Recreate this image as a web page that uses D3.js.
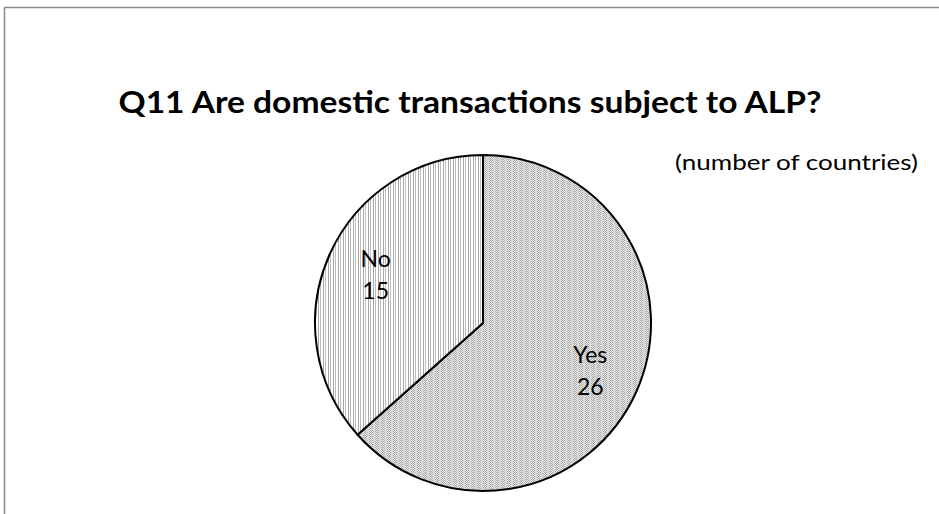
<!DOCTYPE html>
<html>
<head>
<meta charset="utf-8">
<script src="https://cdn.jsdelivr.net/npm/d3@7/dist/d3.min.js"></script>
<style>
  html, body { margin: 0; padding: 0; background: #fff; }
  svg { display: block; }
  text { font-family: Lato, "Open Sans", sans-serif; fill: #000; }
</style>
</head>
<body>
<svg id="chart" width="939" height="514"></svg>
<script>
// Survey answers, in drawing order (clockwise from 12 o'clock)
const categories = ["Yes", "No"];
const counts = [26, 15];
const title = "Q11 Are domestic transactions subject to ALP?";
const unitNote = "(number of countries)";

const svg = d3.select("#chart");
const W = 939, H = 514;

// Hatch fills
const defs = svg.append("defs");
const stripes = defs.append("pattern")
  .attr("id", "fill-No").attr("patternUnits", "userSpaceOnUse")
  .attr("width", 5).attr("height", 4);
stripes.append("rect").attr("width", 5).attr("height", 4).attr("fill", "#fff");
stripes.append("rect").attr("x", 0).attr("width", 1).attr("height", 4).attr("fill", "#a8a8a8");
stripes.append("rect").attr("x", 2).attr("width", 1).attr("height", 4).attr("fill", "#bdbdbd");

const dots = defs.append("pattern")
  .attr("id", "fill-Yes").attr("patternUnits", "userSpaceOnUse")
  .attr("width", 6).attr("height", 2);
dots.append("rect").attr("width", 6).attr("height", 2).attr("fill", "#ececec");
[[0,0],[2,0],[1,1],[3,1]].forEach(([x, y]) =>
  dots.append("rect").attr("x", x).attr("y", y).attr("width", 1).attr("height", 1).attr("fill", "#a4a4a4"));
dots.append("rect").attr("x", 4).attr("width", 2).attr("height", 2).attr("fill", "#d6d6d6");

// Chart frame
svg.append("rect")
  .attr("x", 4.5).attr("y", 7.5)
  .attr("width", W).attr("height", H)
  .attr("fill", "none").attr("stroke", "#8c8c8c").attr("stroke-width", 1.5);

// Title
svg.append("text")
  .attr("x", 470).attr("y", 113)
  .attr("text-anchor", "middle")
  .attr("font-size", 31).attr("font-weight", 700)
  .attr("textLength", 703).attr("lengthAdjust", "spacingAndGlyphs")
  .text(title);

svg.append("text")
  .attr("x", 918).attr("y", 170)
  .attr("text-anchor", "end")
  .attr("font-size", 22)
  .attr("textLength", 243).attr("lengthAdjust", "spacingAndGlyphs")
  .text(unitNote);

// Pie
const cx = 483, cy = 323, r = 168;
const data = categories.map((c, i) => ({ cat: c, value: counts[i] }));
const pie = d3.pie().sort(null).value(d => d.value);
const arc = d3.arc().innerRadius(0).outerRadius(r);
const arcs = pie(data);

const g = svg.append("g").attr("transform", `translate(${cx},${cy})`);
g.selectAll("path.slice")
  .data(arcs)
  .join("path")
  .attr("class", "slice")
  .attr("d", arc)
  .attr("fill", d => `url(#fill-${d.data.cat})`)
  .attr("stroke", "#000")
  .attr("stroke-width", 2)
  .attr("stroke-linejoin", "miter");

// Category labels with counts
const labelArc = d3.arc().innerRadius(r * 0.70).outerRadius(r * 0.70);
const labels = g.selectAll("g.label")
  .data(arcs)
  .join("g")
  .attr("class", "label")
  .attr("transform", d => `translate(${labelArc.centroid(d)})`);
labels.append("text")
  .attr("y", -8)
  .attr("text-anchor", "middle")
  .attr("font-size", 23)
  .text(d => d.data.cat);
labels.append("text")
  .attr("y", 24)
  .attr("text-anchor", "middle")
  .attr("font-size", 23)
  .text(d => d.data.value);
</script>
</body>
</html>
